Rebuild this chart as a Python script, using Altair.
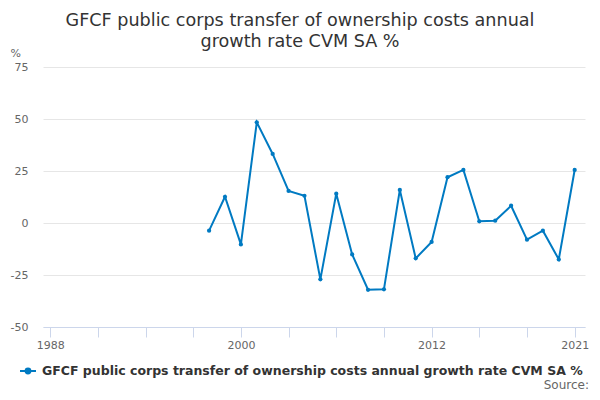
import altair as alt
import pandas as pd

years = list(range(1998, 2022))
values = [-3.7, 12.6, -10.3, 48.4, 33.2, 15.4, 13.1, -27.1, 14.1, -15.1, -32.1, -31.9,
          15.9, -17.0, -9.1, 22.0, 25.5, 0.8, 1.1, 8.3, -8.0, -3.7, -17.5, 25.5]
series_name = "GFCF public corps transfer of ownership costs annual growth rate CVM SA %"
x_ticks = list(range(1988, 2022, 3))
x_labels = [1988, 2000, 2012, 2021]
y_ticks = [-50, -25, 0, 25, 50, 75]

df = pd.DataFrame({"year": years, "value": values, "series": series_name})

FONT = "DejaVu Sans"
BLUE = "#007ac2"

label_test = " || ".join(f"datum.value == {v}" for v in x_labels)

x_enc = alt.X("year:Q",
              scale=alt.Scale(domain=[1987.55, 2021.65], nice=False, zero=False),
              axis=alt.Axis(values=x_ticks, labelExpr=f"({label_test}) ? toString(datum.value) : ''",
                            title=None, grid=False, domainColor="#ccd6eb", tickColor="#ccd6eb",
                            tickSize=10, labelPadding=2, labelColor="#666666", labelFontSize=11,
                            labelFont=FONT, labelFlush=False, labelOverlap=False))
y_enc = alt.Y("value:Q",
              scale=alt.Scale(domain=[-50, 75], nice=False),
              axis=alt.Axis(values=y_ticks, labelExpr="toString(datum.value)",
                            title="%", titleAngle=0, titleX=-33, titleY=-11,
                            titleAlign="left", titleBaseline="alphabetic", titleColor="#666666",
                            titleFontSize=11, titleFont=FONT, titleFontWeight="normal",
                            domain=False, ticks=False, tickSize=0, labelPadding=15,
                            gridColor="#e6e6e6", labelColor="#666666", labelFontSize=11,
                            labelFont=FONT))

color_enc = alt.Color("series:N", scale=alt.Scale(range=[BLUE]),
                      legend=alt.Legend(title=None, orient="none", legendX=-24, legendY=295,
                                        symbolType="M-1,0L1,0M0.3,0A0.3,0.3,0,1,1,-0.3,0A0.3,0.3,0,1,1,0.3,0",
                                        symbolSize=256, symbolStrokeWidth=2, symbolFillColor=BLUE,
                                        labelFont=FONT, labelFontSize=12.5, labelFontWeight="bold",
                                        labelColor="#333333", labelLimit=0, labelOffset=5, padding=0))

line = alt.Chart(df).mark_line(strokeWidth=2).encode(x=x_enc, y=y_enc, color=color_enc)
points = alt.Chart(df).mark_point(filled=True, size=18, opacity=1).encode(
    x="year:Q", y="value:Q", color=alt.Color("series:N", legend=None))

source = alt.Chart(pd.DataFrame({"t": ["Source:"]})).mark_text(
    align="right", baseline="bottom", font=FONT, fontSize=12, color="#666666"
).encode(text="t:N", x=alt.value(546), y=alt.value(325))

chart = alt.layer(line, points, source).properties(
    width=542, height=260,
    autosize=alt.AutoSizeParams(type="none"),
    padding={"left": 35, "top": 59, "right": 7, "bottom": 65},
    title=alt.TitleParams(text=["GFCF public corps transfer of ownership costs annual",
                                "growth rate CVM SA %"],
                          font=FONT, fontSize=17.6, fontWeight="normal", color="#333333",
                          anchor="middle", frame="group", dx=-14, lineHeight=21, offset=-4)
).configure_view(stroke=None)

chart.save("out.html", embed_options={"renderer": "svg", "actions": False})
